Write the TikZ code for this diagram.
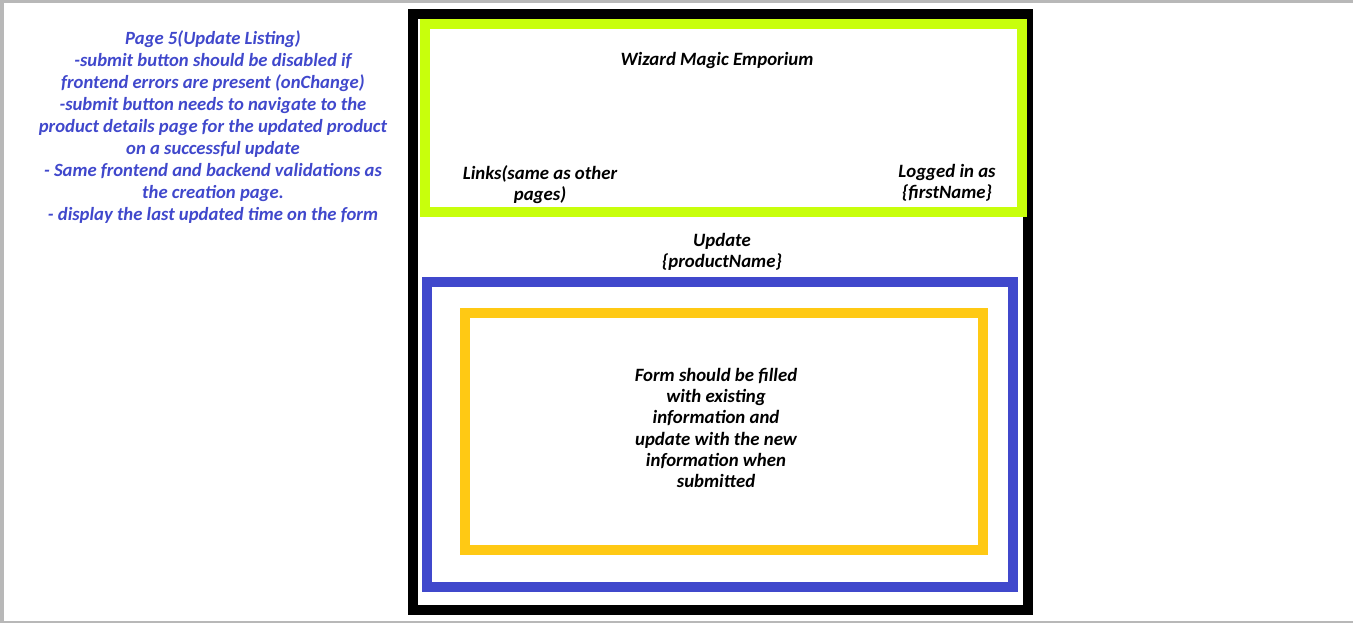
\documentclass[tikz,border=0pt]{standalone}
\usepackage{fontspec}
\setmainfont{Carlito}
\definecolor{bgray}{RGB}{184,184,184}
\definecolor{lime}{RGB}{200,255,12}
\definecolor{boxblue}{RGB}{64,72,204}
\definecolor{gold}{RGB}{255,201,20}
\tikzset{
  frame/.style={line width=7.5pt},
  lbl/.style={font=\fontsize{14.1pt}{15.9pt}\selectfont\bfseries\itshape, align=center, inner sep=0pt},
}
\begin{document}
\begin{tikzpicture}[x=0.75pt,y=-0.75pt]
\useasboundingbox (0,0) rectangle (1353,623);
\fill[bgray] (0,0) rectangle (1353,623);
\fill[white] (4,3) rectangle (1353,621);
% page frame
\draw[frame,black] (413,14.5) rectangle (1028,610);
% header
\draw[frame,lime] (425,24) rectangle (1022,212);
% form container
\draw[frame,boxblue] (427,282) rectangle (1013,587);
% form
\draw[frame,gold] (465,313) rectangle (983,549.5);
% texts
\node[lbl,text=boxblue,font=\fontsize{14pt}{16.5pt}\selectfont\bfseries\itshape] (notes) at (213,127) {Page 5(Update Listing)\\-submit button should be disabled if\\frontend errors are present (onChange)\\-submit button needs to navigate to the\\product details page for the updated product\\on a successful update\\- Same frontend and backend validations as\\the creation page.\\- display the last updated time on the form};
\node[lbl] (title) at (717,60) {Wizard Magic Emporium};
\node[lbl] (links) at (540,185) {Links(same as other\\pages)};
\node[lbl] (logged) at (947,183) {Logged in as\\\{firstName\}};
\node[lbl] (update) at (722,252) {Update\\\{productName\}};
\node[lbl] (form) at (716,428) {Form should be filled\\with existing\\information and\\update with the new\\information when\\submitted};
\end{tikzpicture}
\end{document}
